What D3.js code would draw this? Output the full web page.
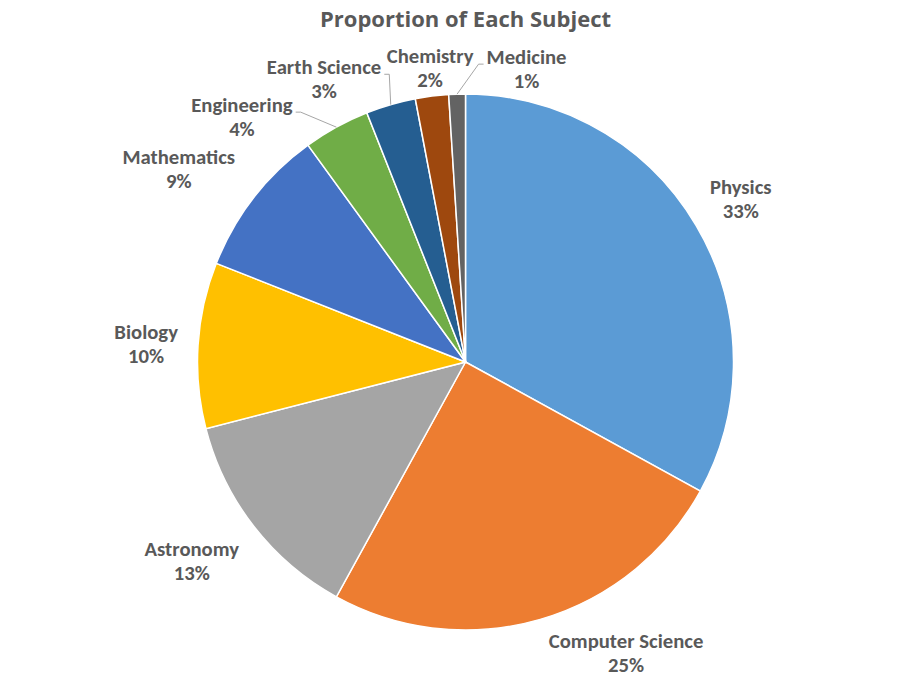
<!DOCTYPE html>
<html>
<head>
<meta charset="utf-8">
<script src="https://cdn.jsdelivr.net/npm/d3@7"></script>
<style>
  body { margin: 0; background: #fff; }
  .title { font-family: "Open Sans", sans-serif; font-weight: 700; font-size: 22px; fill: #595959; }
  .lbl { font-family: Carlito, "Open Sans", sans-serif; font-weight: 700; font-size: 20.7px; fill: #595959; }
</style>
</head>
<body>
<div id="vis-container"></div>
<script>
// chart data
var subjects = ["Physics", "Computer Science", "Astronomy", "Biology", "Mathematics",
                "Engineering", "Earth Science", "Chemistry", "Medicine"];
var shares = [33, 25, 13, 10, 9, 4, 3, 2, 1];
var colors = ["#5B9BD5", "#ED7D31", "#A5A5A5", "#FFC000", "#4472C4",
              "#70AD47", "#255E91", "#9E480E", "#636363"];
// small slices get their label pushed aside (Excel "best fit") with a leader line
var labelNudge = [[0, 0], [4, -4], [-2, 4], [-4, 2], [-6, 3],
                  [-36, 27], [-5, 13], [22, 11], [75, 14]];
var hasLeader = [false, false, false, false, false, true, true, false, true];

var width = 923, height = 678;
var cx = 465.5, cy = 362, radius = 268;

var svg = d3.select("#vis-container").append("svg")
    .attr("width", width).attr("height", height);

svg.append("text")
    .attr("class", "title")
    .attr("x", cx)
    .attr("y", 27)
    .attr("text-anchor", "middle")
    .text("Proportion of Each Subject");

var data = subjects.map((s, i) => ({ name: s, value: shares[i], color: colors[i], i: i }));

var pie = d3.pie().sort(null).value(d => d.value);
var arcs = pie(data);
var arcGen = d3.arc().innerRadius(0).outerRadius(radius);

var g = svg.append("g").attr("transform", "translate(" + cx + "," + cy + ")");

g.selectAll("path.slice")
    .data(arcs).enter()
    .append("path")
    .attr("class", "slice")
    .attr("d", arcGen)
    .attr("fill", d => d.data.color)
    .attr("stroke", "#fff")
    .attr("stroke-width", 1.5);

var clamp = v => Math.max(-1, Math.min(1, v));
var labelsG = g.append("g");
var lineH = 24;

arcs.forEach(function(d) {
    var a = (d.startAngle + d.endAngle) / 2;
    var s = Math.sin(a), c = Math.cos(a);
    var ax = (radius + 16) * s, ay = -(radius + 16) * c;

    var t = labelsG.append("text").attr("class", "lbl").attr("text-anchor", "middle");
    t.append("tspan").attr("x", 0).attr("dy", 0).text(d.data.name);
    t.append("tspan").attr("x", 0).attr("dy", lineH).text(d.data.value + "%");
    var w = t.node().getBBox().width;
    var h = 46;

    var lx = ax + w / 2 * clamp(s * 4) + labelNudge[d.data.i][0];
    var ly = ay - h / 2 * clamp(c * 1.5) + labelNudge[d.data.i][1];
    // ly is the centre of the two-line block
    t.attr("transform", "translate(" + lx + "," + (ly - lineH / 2 + 6.5) + ")");

    if (hasLeader[d.data.i]) {
        var px = radius * s, py = -radius * c;
        var side = px < lx ? -1 : 1;       // which side of the label faces the slice
        var ex = lx + side * (w / 2 + 3);
        var ey = ly - 5;
        var hx = ex + side * 5;
        labelsG.append("polyline")
            .attr("points", [[ex, ey], [hx, ey], [px, py]].map(p => p.join(",")).join(" "))
            .attr("fill", "none")
            .attr("stroke", "#a6a6a6")
            .attr("stroke-width", 1);
    }
});
</script>
</body>
</html>
